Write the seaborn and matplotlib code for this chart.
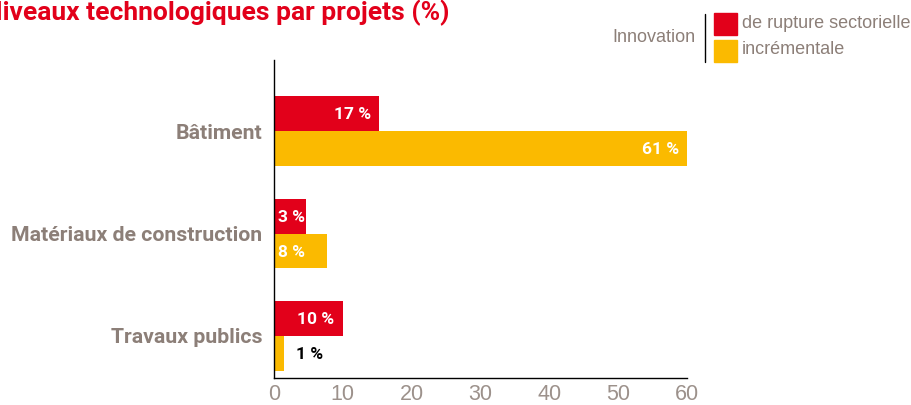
import numpy as np
import pandas as pd
import matplotlib
matplotlib.use("Agg")
import matplotlib.pyplot as plt
import seaborn as sns
from matplotlib.patches import Rectangle
from matplotlib.lines import Line2D

# --- data ---
secteurs = ["Bâtiment", "Matériaux de construction", "Travaux publics"]
innovations = ["de rupture sectorielle", "incrémentale"]
rupture = [15.3, 4.6, 10.0]        # bar lengths as drawn
incrementale = [60.1, 7.7, 1.4]
rupture_labels = ["17 %", "3 %", "10 %"]
incrementale_labels = ["61 %", "8 %", "1 %"]
x_ticks = [0, 10, 20, 30, 40, 50, 60]

RED = "#E2001A"
YELLOW = "#FBBA00"
GRAY = "#8C7F78"
TICK_GRAY = "#9C918B"

df = pd.DataFrame({
    "secteur": secteurs * 2,
    "innovation": [innovations[0]] * 3 + [innovations[1]] * 3,
    "valeur": rupture + incrementale,
})

sns.set_style("white")
narrow = ["Liberation Sans Narrow", "Liberation Sans", "DejaVu Sans"]
bold = ["Roboto", "DejaVu Sans"]

fig = plt.figure(figsize=(9.11, 4.05), dpi=100)
ax = fig.add_axes([274 / 911, 1 - 378 / 405, 413 / 911, 318 / 405])

sns.barplot(data=df, y="secteur", x="valeur", hue="innovation",
            order=secteurs, hue_order=innovations, palette=[RED, YELLOW],
            saturation=1, linewidth=0,
            orient="h", width=0.68, gap=0, legend=False, ax=ax)

ax.set_xlim(0, 60)
ax.set_ylim(2.41, -0.693)
ax.set_xticks(x_ticks)
ax.set_xlabel("")
ax.set_ylabel("")
ax.tick_params(axis="x", length=3, width=1, color="black", labelcolor=TICK_GRAY,
               labelsize=15.5, pad=1, direction="out")
ax.tick_params(axis="y", length=0, pad=8.5)
for lab in ax.get_xticklabels():
    lab.set_family(narrow)
for lab in ax.get_yticklabels():
    lab.set_family(bold)
    lab.set_fontweight("bold")
    lab.set_color(GRAY)
    lab.set_fontsize(15.3)

for side in ["top", "right"]:
    ax.spines[side].set_visible(False)
for side in ["left", "bottom"]:
    ax.spines[side].set_color("black")
    ax.spines[side].set_linewidth(1)

# value labels
px_per_unit = 413 / 60
for container, labels in zip(ax.containers, [rupture_labels, incrementale_labels]):
    for bar, txt in zip(container, labels):
        w = bar.get_width()
        yc = bar.get_y() + bar.get_height() / 2
        wpx = w * px_per_unit
        if wpx > 60:
            ax.annotate(txt, (w, yc), xytext=(-6, -1), textcoords="offset points",
                        ha="right", va="center", color="white", fontsize=12.5,
                        fontweight="bold", family=bold, annotation_clip=False)
        elif wpx > 25:
            ax.annotate(txt, (0, yc), xytext=(3, -1), textcoords="offset points",
                        ha="left", va="center", color="white", fontsize=12.5,
                        fontweight="bold", family=bold, annotation_clip=False)
        else:
            ax.annotate(txt, (w, yc), xytext=(9, -1), textcoords="offset points",
                        ha="left", va="center", color="black", fontsize=12.5,
                        fontweight="bold", family=bold, annotation_clip=False)

# title (starts off the left edge, as in the reference)
fig.text(450 / 911, 1 - 13 / 405, "Niveaux technologiques par projets (%)",
         ha="right", va="center", color=RED, fontsize=19, fontweight="bold",
         family=bold)

# custom legend
fig.text(695 / 911, 1 - 37 / 405, "Innovation", ha="right", va="center",
         color=GRAY, fontsize=13, family=narrow)
fig.add_artist(Line2D([705 / 911, 705 / 911], [1 - 14 / 405, 1 - 62 / 405],
                      color="black", lw=1, transform=fig.transFigure))
for (y0, col, txt) in [(13, RED, innovations[0]), (40, YELLOW, innovations[1])]:
    fig.add_artist(Rectangle((714 / 911, 1 - (y0 + 22) / 405), 23 / 911, 22 / 405,
                             color=col, transform=fig.transFigure))
    fig.text(742 / 911, 1 - (y0 + 10) / 405, txt, ha="left", va="center",
             color=GRAY, fontsize=13, family=narrow)

fig.savefig("out.png", dpi=100)
